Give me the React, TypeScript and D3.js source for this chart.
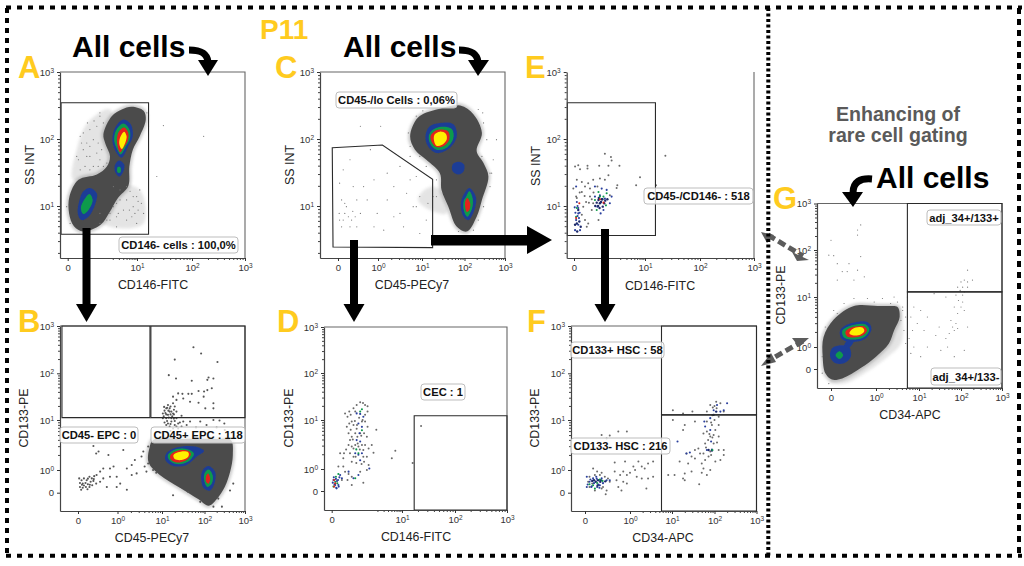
import React, { useEffect, useRef } from "react";
import * as d3 from "d3";

// all values are display decades: 0 is the "0" tick, 1 is 10^0, 2 is 10^1, 3 is 10^2, 4 is 10^3
type Pt = number[];

const yellow = "#ffcb1f";
const cloudGray = "#4c4c4c";
const hotBlue = "#1f3c96";
const hotGreen = "#0f9a4b";
const hotRed = "#e3201c";
const hotYellow = "#fff000";

const ticksFitc = [0, 2, 3, 4];
const ticksFull = [0, 1, 2, 3, 4];
const ticksSs = [2, 3, 4];

// panel A
const aOuter: Pt[] = [[1.85,3.48],[2.12,3.42],[2.16,3.29],[2.05,3.04],[1.88,2.84],[1.78,2.59],[1.75,2.3],[1.45,2.12],[1.2,1.9],[.95,1.72],[.45,1.62],[.18,1.7],[.04,1.89],[.05,2.14],[.31,2.39],[.84,2.47],[1.13,2.59],[1.22,2.74],[1.08,2.94],[1.03,3.07],[1.27,3.34],[1.56,3.44]];
const aHazeUp: Pt[] = [[.57,3.24],[1.22,3.44],[1.22,2.69],[.93,2.49],[.16,2.39],[.26,2.84]];
const aHazeLow: Pt[] = [[1.32,2.29],[2.05,2.24],[2.12,1.74],[1.22,1.69],[.84,1.84]];
const aBlue: Pt[] = [[1.61,3.29],[1.82,3.22],[1.88,3.04],[1.75,2.89],[1.56,2.72],[1.41,2.79],[1.29,2.97],[1.37,3.17]];
const aGreen: Pt[] = [[1.61,3.23],[1.78,3.14],[1.8,3.02],[1.68,2.89],[1.53,2.77],[1.41,2.87],[1.34,2.99],[1.41,3.14]];
const aRed: Pt[] = [[1.63,3.17],[1.75,3.09],[1.73,2.97],[1.61,2.87],[1.51,2.8],[1.43,2.92],[1.43,3.04],[1.49,3.12]];
const aYellow: Pt[] = [[1.63,3.11],[1.7,3.04],[1.66,2.94],[1.56,2.85],[1.49,2.92],[1.51,3.02]];
const aMidBlue: Pt[] = [[1.48,2.68],[1.63,2.62],[1.61,2.52],[1.49,2.44],[1.36,2.52],[1.37,2.62]];
const aMidGreen: Pt[] = [[1.44,2.58],[1.52,2.58],[1.52,2.5],[1.44,2.5]];
const aLowBlue: Pt[] = [[.64,2.27],[.84,2.19],[.79,2.02],[.6,1.84],[.4,1.79],[.29,1.89],[.34,2.09],[.45,2.22]];
const aLowGreen: Pt[] = [[.63,2.18],[.72,2.09],[.6,1.94],[.45,1.88],[.38,1.97],[.47,2.09]];
const aDots: Pt[] = [[.57,3.24],[.76,3.27],[.93,3.34],[.36,3.04],[.55,2.94],[.74,2.99],[.45,2.84],[.64,2.74],[.84,2.79],[.98,2.84],[.31,2.69],[.5,2.59],[.74,2.59],[1.03,2.59],[1.32,2.29],[1.7,2.29],[2.05,2.24],[1.89,2.14],[1.51,2.09],[1.32,1.99],[1.89,1.99],[1.61,1.94],[2.12,1.89],[1.41,1.84],[1.13,1.79],[2.48,3.2],[3.22,3.04],[2.36,2.44],[1.94,1.89],[1.85,1.84],[2.02,2.07],[.93,1.89],[1.22,1.89],
  [.45,3.09],[.64,3.14],[.84,3.19],[1.03,3.24],[.4,2.94],[.64,2.89],[.88,2.94],[.26,2.74],[.55,2.74],[.93,2.69],[.36,2.54],[.64,2.54],[.88,2.59],[1.13,2.64],[1.51,2.24],[1.8,2.22],[1.99,2.14],[1.7,2.09],[1.41,2.04],[2.08,2.04],[1.78,1.94],[2.02,1.94],[1.46,1.89],[1.22,1.79],[1.7,1.79],[1.99,1.74],[1.41,1.69],[.93,1.74],[2.18,3.39],[2.21,3.19],[.93,3.39],[.07,1.74],[-.03,1.99]];

// panel B
const bOuter: Pt[] = [[1.8,1.6],[2.5,1.62],[3.3,1.62],[3.65,1.6],[3.7,1.3],[3.63,.9],[3.5,.25],[3.3,-.3],[3.1,-.6],[2.86,-.3],[2.42,.22],[1.95,.78],[1.7,1.15],[1.72,1.45]];
const bBlue1: Pt[] = [[2.1,1.33],[2.34,1.45],[2.78,1.47],[2.99,1.38],[2.82,1.27],[2.58,1.1],[2.26,1.08],[2.08,1.2]];
const bGreen1: Pt[] = [[2.14,1.3],[2.34,1.42],[2.62,1.41],[2.75,1.33],[2.62,1.17],[2.34,1.12],[2.17,1.2]];
const bRed1: Pt[] = [[2.2,1.3],[2.38,1.39],[2.62,1.38],[2.68,1.32],[2.58,1.2],[2.34,1.15],[2.2,1.22]];
const bYellow1: Pt[] = [[2.27,1.3],[2.46,1.37],[2.62,1.35],[2.62,1.27],[2.46,1.2],[2.3,1.22]];
const bBlue2: Pt[] = [[3.1,1.08],[3.26,.93],[3.26,.48],[3.14,.1],[2.99,.18],[2.92,.63],[2.96,1]];
const bGreen2: Pt[] = [[3.1,1.01],[3.2,.78],[3.18,.4],[3.07,.25],[3,.48],[3,.85]];
const bRed2: Pt[] = [[3.09,.85],[3.14,.63],[3.1,.4],[3.04,.48],[3.04,.73]];
const bDots: Pt[] = [[2.74,3.55],[2.92,3.42],[2.3,3.29],[3.32,3.24],[2.16,2.96],[2.33,2.89],[2.7,2.84],[3.1,2.91],[3.22,2.89],[3.07,2.86],[3.18,2.68],[3.07,2.64],[2.99,2.61],[2.86,2.62],[2.7,2.56],[2.62,2.56],[2.48,2.56],[2.38,2.57],[2.26,2.5],[2.98,2.5],[3.22,2.36],[2.86,2.37],[2.5,2.46],[2.66,2.39],[2.34,2.43],[2.26,2.36],[2.14,2.32],[2.1,2.25],[2.2,2.29],[2.3,2.29],[2.06,2.2],[2.18,2.18],[2.26,2.14],[2.02,2.14],[2.14,2.11],[2.34,2.18],[2.22,2.04],[2.1,2.04],[2.34,2.04],[2.46,2.09],[2.02,2.04],[3.22,2.25],[3.02,2.25],[2.22,1.97],[2.3,1.9],[2.14,1.93],[2.38,1.93],[2.5,1.97],[2.66,1.97],[2.9,1.97],[3.22,2],[3.37,1.99],[3.49,1.93],[2.26,1.83],[2.18,1.87],[2.1,1.9],[2.38,1.83],[2.46,1.87],[2.15,2.2],[2.2,2.12],[2.1,2.12],[2.28,2.22],[2.05,2.28],[2.24,2.08],[2.12,1.98],[2.3,1.98],
  [2.08,2.15],[2.18,2.25],[2.22,2.18],[2.12,2.26],[2.28,2.12],[2.04,2.08],[2.16,2.05],[2.28,2.03],[2.2,1.92],[2.06,1.95],[2.34,1.87],[2.42,1.95],[2.58,1.9],[2.8,1.85],[3.05,1.9],[3.3,1.85],[3.5,1.8],[2,1.75],[2.2,1.78],
  [.39,1.48],[.52,1.37],[.46,1.33],[.77,1.3],[1.13,1.4],[.9,1.07],[.81,1.03],[.64,1.03],[.56,.93],[1.32,1.1],[1.39,1.2],[1.58,1.37],[1.54,1.27],[1.69,1.47],[1.61,1.07],[1.65,.93],[1.43,.85],[1.32,.78],[1.21,1.03],[.98,.7],[.64,.63],[.81,.7],[1.06,.4],[.73,.25],[1.21,.13],[.98,.25],
  [.03,.63],[.09,.55],[.15,.63],[.22,.55],[.29,.7],[.35,.63],[.41,.73],[.47,.78],[.05,.43],[.12,.4],[.19,.43],[.25,.37],[.32,.48],[.39,.52],[.05,.25],[.12,.22],[.2,.25],[.29,.25],[.36,.33],[.46,.4],[.56,.48],[.08,.13],[.24,.15],[.3,.35],[.15,.32],[.25,.62],[.4,.6],[.1,.35],
  [2.26,-.12],[3.43,-.64],[3.22,-.64],[3.34,-.27],[3.63,.1],[3.71,.4],[2.9,-.42],[2.62,.03],[1.8,1],[1.69,1.13],[1.87,.88]];

// panel C
const cOuter: Pt[] = [[2.9,3.5],[3.22,3.37],[3.43,3.09],[3.3,2.82],[3.47,2.64],[3.59,2.44],[3.43,2.09],[3.3,1.84],[3.06,1.62],[2.82,1.69],[2.62,1.99],[2.46,2.24],[2.42,2.49],[2.1,2.69],[1.84,2.84],[1.73,3.04],[1.91,3.32],[2.34,3.44]];
const cHaze: Pt[] = [[2.26,2.29],[2.5,2.19],[2.58,1.89],[2.18,1.94],[1.91,2.09],[2.02,2.22]];
const cBlue1: Pt[] = [[2.42,3.24],[2.74,3.22],[2.82,3.04],[2.66,2.87],[2.34,2.79],[2.14,2.89],[2.08,3.04],[2.18,3.19]];
const cGreen1: Pt[] = [[2.42,3.18],[2.7,3.15],[2.74,3.02],[2.58,2.87],[2.34,2.84],[2.2,2.92],[2.16,3.04],[2.24,3.13]];
const cRed1: Pt[] = [[2.42,3.14],[2.62,3.11],[2.64,2.99],[2.5,2.89],[2.34,2.88],[2.24,2.94],[2.2,3.04],[2.28,3.11]];
const cYellow1: Pt[] = [[2.42,3.11],[2.56,3.08],[2.58,2.99],[2.46,2.91],[2.34,2.9],[2.28,2.99],[2.3,3.07]];
const cMidBlue: Pt[] = [[2.86,2.66],[2.99,2.62],[2.98,2.52],[2.86,2.47],[2.72,2.52],[2.72,2.62]];
const cBlue2: Pt[] = [[3.12,2.27],[3.28,2.14],[3.26,1.97],[3.1,1.79],[2.98,1.84],[2.91,2.02],[2.98,2.17]];
const cGreen2: Pt[] = [[3.12,2.22],[3.2,2.12],[3.19,1.97],[3.07,1.84],[2.99,1.92],[2.98,2.07],[3.04,2.14]];
const cRed2: Pt[] = [[3.07,2.12],[3.14,2.04],[3.12,1.94],[3.06,1.91],[3.02,1.97],[3.02,2.07]];
const cDots: Pt[] = [[.04,2.34],[.09,2.09],[.03,1.89],[.17,1.89],[.26,1.84],[.34,1.79],[.43,1.84],[.3,1.69],[.13,1.79],[.09,1.69],[.47,1.69],[.56,1.89],[.47,2.09],[.73,2.09],[.64,2.29],[.9,2.39],[1.21,2.49],[1.5,2.59],[1.73,2.39],[1.87,2.44],[1.65,2.19],[1.36,2.29],[1.21,2.09],[.98,1.89],[.9,1.69],[1.36,1.84],[1.8,1.99],[1.95,1.59],[1.58,1.69],[1.13,1.64],[.56,3.19],[1.06,3.19],[.13,2.54],[.3,2.69],[.81,2.84],[.38,2.29],[.21,1.99],[.37,1.92],[.17,2.04],[.04,1.79],[1.73,2.74],[1.5,1.89],[2.1,1.79],[2.26,2.14],[3.79,2.99],[3.45,3.39],[3.63,2.49],[3.71,2.69],
  [1.69,3.09],[1.73,2.89],[1.87,3.34],[2.02,3.42],[3.34,3.44],[3.47,3.24],[3.55,2.99],[3.43,2.74],[3.67,2.49],[3.63,2.29],[3.47,1.99],[3.34,1.79],[3.22,1.64],[2.86,1.62],[1.95,2.74],[2.1,2.59],[2.34,2.39],[1.87,1.99],[1.95,2.14],[2.14,2.04],[2.34,2.14]];

// panel D
const dGray: Pt[] = [[.81,2.38],[.89,2.36],[.95,2.32],[1.02,2.29],[.71,2.32],[.62,2.25],[.5,2.18],[.38,2.14],[.45,2.07],[.54,2.11],[.67,2.18],[1.02,2.18],[.95,2.11],[.57,1.97],[.5,1.93],[.43,1.86],[.54,1.8],[.62,1.9],[.95,1.97],[1.02,1.86],[.92,1.73],[1.27,1.8],[.48,1.73],[.57,1.66],[.67,1.73],[1,1.66],[1.14,1.49],[.52,1.59],[.48,1.49],[.41,1.4],[.35,1.32],[.24,1.32],[.33,1.22],[.52,1.32],[.62,1.25],[.57,1.15],[.95,1.49],[.9,1.39],[1.05,1.42],[1.19,1.33],[1,1.25],[.92,1.15],[1.05,1.08],[1,.95],[.81,.88],[.9,.38],[.33,1.05],[.19,1.05],[.38,.88],[.48,.77],[.57,.65],[.45,.5],[.29,.5],[.57,.27],[1.81,1.37],[1.71,1.22],[2.2,1.12],[2.36,1.88],[.73,1.66],[.86,1.49],[.76,1.46],[.67,1.49],[.81,1.73],[.71,1.82],[.57,1.46],[.86,1.97],
  [.78,2.05],[.72,1.9],[.84,1.68],[.74,1.52],[.68,1.25],[.8,1.4],[.9,1.25],[.62,1.42],[.6,1.6],[.88,2],[.66,1.98],[.85,1.1],[.7,1.12]];
const dBlue: Pt[] = [[.71,2.14],[.81,2.13],[.9,2.07],[.76,1.93],[.86,1.86],[.79,1.73],[.71,1.59],[.81,1.56],[.67,1.32],[.76,1.29],[.86,1.32],[.81,1.18],[1.07,1.01],[.76,.73],[.62,.58],[.24,.73],[.19,.27],[.29,.58],[.1,.27],[.14,.12],[.48,.88],[.05,.5],[.12,.55],[.15,.45],[.08,.3],[.13,.15],[.18,.5],[.22,.62],[.06,.62],[.03,.38],[.2,.2]];
const dGreen: Pt[] = [[.86,2.23],[.81,2.18],[.7,1.4],[.86,1.79],[.76,1.32],[.67,.58],[.12,.65],[.19,.77],[.05,.2],[.1,.42],[.16,.35]];
const dRed: Pt[] = [[.07,.5],[.1,.35],[.07,.2]];

// panel E
const eGray: Pt[] = [[.87,2.78],[1.04,2.73],[1.06,2.68],[1.28,2.6],[.97,2.6],[.71,2.6],[.38,2.6],[.38,2.56],[.03,2.59],[.12,2.61],[.17,2.55],[1.86,2.43],[1.75,2.31],[1.22,2.31],[1.2,2.27],[2.2,2.31],[2.37,2.75],[.22,2.36],[.08,2.39],[.4,2.34],[.54,2.39],[.73,2.41],[.97,2.46],[.87,2.39],[-.02,2.26],[.31,2.29],[.45,2.26],[.66,2.29],[.22,2.21],[.06,2.14],[.45,2.14],[.34,2.06],[.26,1.99],[.54,2.04],[.69,1.79],[.4,1.74],[.31,1.79],[.22,1.87],[.36,1.69],[1.01,2.16],[.5,1.94],[.16,2.2],[.3,2.15],[.42,2.05],[.5,2.1],[.55,2.2],[.08,2.12]];
const eBlue: Pt[] = [[.59,2.29],[.78,2.26],[.92,2.24],[1.06,2.14],[1.01,2.04],[.83,1.94],[.66,1.99],[.59,2.14],[.73,2.16],[.87,2.11],[.06,2.29],[.08,2.06],[.12,1.89],[.06,1.79],[.12,1.72],[.17,1.64],[.03,1.64],[.12,1.97],[.75,1.89],[.04,1.9],[.1,1.85],[.14,1.82],[.02,1.98],[.16,1.9],[.1,2]];
const eDark: Pt[] = [[.69,2.09],[.78,2.1],[.85,2.04],[.73,2.04],[.64,2.05],[.81,1.99],[.08,1.74],[.15,1.77],[.03,1.72],[.19,1.69],[.09,1.62],[.12,1.94],[.7,2.12],[.76,2.06],[.8,2.1],[.68,2],[.72,1.97],[.88,2.08],[.6,2],[.94,2.1]];
const eGreen: Pt[] = [[.69,2.21],[.92,2.19],[.83,2.14],[.59,2.09],[.73,2.14],[.9,2.01],[.08,1.97],[.06,1.84],[.64,1.94]];
const eRed: Pt[] = [[.83,2.05],[.73,2.1],[.06,1.82],[.15,2.04]];

// panel F
const fGray: Pt[] = [[3.04,2.39],[3.14,2.36],[2.9,2.32],[2.96,2.27],[2.82,2.18],[3.22,2.18],[3.1,2.07],[2.82,1.97],[2.94,1.9],[3.1,1.9],[3.02,1.8],[2.82,1.77],[2.9,1.67],[2.74,1.73],[3.1,1.67],[2.98,1.53],[2.78,1.53],[2.62,1.43],[2.54,1.4],[2.66,1.33],[2.9,1.37],[3.1,1.4],[3.22,1.4],[3.22,1.3],[3.14,1.2],[3.02,1.17],[2.86,1.27],[2.78,1.2],[2.7,1.13],[2.54,1.23],[2.46,1.27],[2.38,1.13],[2.74,1.03],[2.9,1],[2.82,.78],[2.7,.88],[2.64,.37],[2.46,.93],[2.3,.85],[2.26,.63],[2.3,.55],[2.06,.78],[1.91,.78],[2.18,1.17],[2.34,1.33],[2.26,1.8],[2.3,1.9],[2.02,2.21],[2.02,2],[2.26,2.14],[2.48,2.18],[2.54,1.97],
  [3,2.3],[3.05,2.25],[2.95,2.1],[3,2],[2.92,1.95],[2.88,1.72],[2.95,1.65],[2.85,1.6],[2.8,1.45],[2.92,1.3],[2.74,1.33],[2.98,1.7],[3.06,1.55],
  [.18,1.03],[.27,.93],[.37,.88],[.1,.7],[.22,.78],[.33,.78],[.44,.7],[.51,.63],[.55,.48],[.07,.48],[.16,.4],[.4,.25],[.48,.1],[.46,-.07],[.37,.18],[.22,.1],[.1,.25],
  [.66,1.15],[.89,1.17],[1.2,1.17],[1.08,1.07],[.85,.93],[.66,.93],[1,.88],[.78,.78],[.93,.78],[1.12,1],[1.28,1.07],[1.43,1.13],[1.35,1.03],[1.55,.7],[1.43,.63],[1.28,.63],[.85,.48],[.93,.4],[.7,.55],[.81,.1],[.74,.25],[1.39,.18],[1.16,.7],[.37,1.7],[.55,1.69],[.74,1.77],[.93,1.77],[.48,1.63],[1.55,1.17]];
const fBlue: Pt[] = [[3.06,2.32],[3.22,2.21],[3.3,2.36],[2.98,2.21],[3.14,2.18],[2.9,2.04],[2.78,1.87],[2.9,1.8],[2.92,1.57],[2.82,1.4],[2.94,1.41],[2.42,1.35],[2.13,1.57],[2.76,1.97],[2.34,1.33],[.04,.7],[.1,.48],[.18,.63],[.25,.7],[.37,.63],[.48,.55],[.14,.25],[.27,.25],[.33,.33],[.04,.25],[.55,.55],[.12,.58],[.2,.42],[.3,.36],[.26,.62],[.4,.42],[.15,.28],[.32,.22],[.06,.36]];
const fDark: Pt[] = [[2.98,2.11],[3.04,2.18],[2.86,1.4],[2.94,1.39],[.29,.55],[.34,.48],[.24,.48],[.16,.52],[.2,.55],[.35,.55],[.45,.5],[.28,.32]];
const fGreen: Pt[] = [[2.95,1.4],[.27,.43],[.18,.33],[.39,.52],[.22,.18],[.33,.58],[.1,.37]];

// panel G
const gOuter: Pt[] = [[1.5,1.8],[1.55,1.6],[1.42,1.33],[1.3,1.07],[1,.56],[.66,.04],[.25,-.4],[.02,-.45],[-.13,-.18],[-.19,.56],[-.17,1.2],[.06,1.55],[.51,1.82],[1.04,1.82],[1.3,1.82]];
const gHaze: Pt[] = [[1.5,1.8],[1.62,1.47],[1.58,1.07],[1.27,.56],[.81,-.1],[.29,-.62],[-.05,-.54],[.51,.26],[1.27,1.33]];
const gBlue1: Pt[] = [[.51,1.49],[.81,1.5],[.9,1.37],[.77,1.17],[.44,1.1],[.23,1.17],[.2,1.33],[.32,1.43]];
const gGreen1: Pt[] = [[.55,1.45],[.77,1.45],[.85,1.35],[.74,1.2],[.47,1.15],[.29,1.19],[.25,1.32],[.36,1.4]];
const gRed1: Pt[] = [[.55,1.41],[.74,1.41],[.8,1.33],[.7,1.23],[.5,1.19],[.36,1.21],[.32,1.3],[.4,1.37]];
const gYellow1: Pt[] = [[.55,1.39],[.7,1.39],[.74,1.32],[.66,1.25],[.51,1.23],[.41,1.27],[.44,1.33]];
const gBlue2: Pt[] = [[.17,1.03],[.4,1],[.44,.56],[.29,.26],[.1,.26],[-.02,.56],[.02,.93]];
const gLink: Pt[] = [[.36,1.13],[.51,1.13],[.4,.96],[.29,1]];
const gGreen2: Pt[] = [[.19,.81],[.27,.63],[.19,.46],[.1,.63]];
const gDots: Pt[] = [[.66,3.54],[.59,3.43],[.59,3.32],[0,3.21],[-.05,2.89],[.06,2.88],[.14,2.71],[.25,2.54],[.36,2.54],[.59,2.57],[.74,2.43],[.51,2.36],[.14,2.36],[.4,2.71],[.66,2.86],[3.16,2.57],
  [3.08,2.36],[3,2.32],[3.16,2.32],[3.28,2.36],[2.92,2.21],[3.04,2.21],[3.16,2.21],[2.98,2.14],[3.08,2.11],[2.88,2.04],[3.04,2.04],[2.94,1.93],[3.04,1.9],[2.84,1.8],[3,1.8],[3.08,1.73],[2.92,1.67],[2.76,1.53],[2.88,1.47],[2.8,1.4],[2.92,1.37],[2.84,1.33],[3.16,1.4],[2.72,1.27],[2.64,1.17],[2.48,1.4],[2.4,1.23],[2.2,1.6],[2.04,1.73],[1.88,1.8],[1.81,1.6],[1.96,1.47],[2.12,1.33],[1.85,1.33],[1.77,1.17],[1.88,1],[2.2,1],[2.52,.85],[2.68,1],[2.84,.56],[3.08,.85],[2.04,.56],[1.81,.71],[1.69,1.07],[1.65,1.33],[1.62,1.73],[1.58,1.53],[2.64,2],[2.36,2.07],
  [.06,1.73],[.29,1.87],[.51,1.97],[.81,1.97],[1.15,1.97],[1.42,2],[1.5,1.9],[1.34,1.87],[.96,1.9],[.14,1.67],[-.13,1.4],[-.2,.56],[-.2,-.18],[-.05,-.62],[1.62,1.8],[1.69,1.6],[1.73,2]];

type Panel = {
  xDomain: number[]; xRange: number[]; yDomain: number[]; yRange: number[];
  xTicks: number[]; yTicks: number[];
  xTitle: string; yTitle: string; xTitleAt: number[]; yTitleAt: number[];
  haze?: Pt[][];
  rings?: [Pt[], string][];
  dots: [Pt[], string, number][];
  gates: Pt[][];
  labels: [string, number, number, number, number][];
  openTop?: boolean;
};

const panels: Panel[] = [
  {
    xDomain: [-.22,0,2,3,4], xRange: [60,67.7,137,192,245],
    yDomain: [1.225,2,3,4], yRange: [258,206,139,72],
    xTicks: ticksFitc, yTicks: ticksSs, xTitle: "CD146-FITC", yTitle: "SS INT", xTitleAt: [153,289], yTitleAt: [34,165],
    haze: [aHazeUp, aHazeLow],
    rings: [[aOuter,cloudGray],[aBlue,hotBlue],[aGreen,hotGreen],[aRed,hotRed],[aYellow,hotYellow],[aMidBlue,hotBlue],[aMidGreen,hotGreen],[aLowBlue,hotBlue],[aLowGreen,hotGreen]],
    dots: [[aDots,"#777",.6]],
    gates: [[[-.19,3.54],[2.21,3.54],[2.21,1.58],[-.19,1.58]]],
    labels: [["CD146- cells : 100,0%",119,237,119,16]],
  },
  {
    xDomain: [-.46,0,1,2,3,4], xRange: [60,78,117.5,162,204.5,245],
    yDomain: [-.84,0,1,2,3,4], yRange: [511,492.7,470,420,373.3,326],
    xTicks: ticksFull, yTicks: ticksFull, xTitle: "CD45-PECy7", yTitle: "CD133-PE", xTitleAt: [152,542], yTitleAt: [28,418],
    rings: [[bOuter,cloudGray],[bBlue1,hotBlue],[bGreen1,hotGreen],[bRed1,hotRed],[bYellow1,hotYellow],[bBlue2,hotBlue],[bGreen2,hotGreen],[bRed2,hotRed]],
    dots: [[bDots,"#555",1.05]],
    gates: [[[-.41,4],[1.73,4],[1.73,2.05],[-.41,2.05]],[[1.75,4],[4,4],[4,2.05],[1.75,2.05]]],
    labels: [["CD45- EPC : 0",60,427,78,16],["CD45+ EPC : 118",151,427,94,16]],
  },
  {
    xDomain: [-.47,0,1,2,3,4], xRange: [320,338,378,422,464.5,505],
    yDomain: [1.225,2,3,4], yRange: [258,206,139,72],
    xTicks: ticksFull, yTicks: ticksSs, xTitle: "CD45-PECy7", yTitle: "SS INT", xTitleAt: [412,289], yTitleAt: [294,165],
    haze: [cHaze],
    rings: [[cOuter,cloudGray],[cBlue1,hotBlue],[cGreen1,hotGreen],[cRed1,hotRed],[cYellow1,hotYellow],[cMidBlue,hotBlue],[cBlue2,hotBlue],[cGreen2,hotGreen],[cRed2,hotRed]],
    dots: [[cDots,"#777",.6]],
    gates: [[[-.15,2.87],[1.1,2.91],[2.25,2.4],[2.25,1.38],[-.13,1.39]]],
    labels: [["CD45-/lo Cells : 0,06%",336,92,121,16]],
  },
  {
    xDomain: [-.21,0,2,3,4], xRange: [324,331.7,402,455,507],
    yDomain: [-.86,0,1,2,3,4], yRange: [510,491,469,420,373,327],
    xTicks: ticksFitc, yTicks: ticksFull, xTitle: "CD146-FITC", yTitle: "CD133-PE", xTitleAt: [416,541], yTitleAt: [293,418],
    dots: [[dGray,"#6a6a6a",1],[dBlue,"#2a3f9d",1.05],[dGreen,"#0f9a4b",1.05],[dRed,"#d8261e",1.1]],
    gates: [[[2.23,2.09],[4,2.09],[4,-.86],[2.23,-.86]]],
    labels: [["CEC : 1",421,384,44,16]],
  },
  {
    xDomain: [-.21,0,2,3,4], xRange: [566.7,574,645,700,754],
    yDomain: [1.225,2,3,4], yRange: [258,206,139,72],
    xTicks: ticksFitc, yTicks: ticksSs, xTitle: "CD146-FITC", yTitle: "SS INT", xTitleAt: [660,290], yTitleAt: [540,166],
    dots: [[eGray,"#6a6a6a",1],[eBlue,"#2a3f9d",1.05],[eDark,"#1d2a6b",1.2],[eGreen,"#0f9a4b",1.05],[eRed,"#d8261e",1.05]],
    gates: [[[-.19,3.54],[2.19,3.54],[2.19,1.56],[-.19,1.56]]],
    labels: [["CD45-/CD146- : 518",644,188,109,16]],
    openTop: true,
  },
  {
    xDomain: [-.32,0,1,2,3,4], xRange: [571,585,630,672,714.5,756.5],
    yDomain: [-.84,0,1,2,3,4], yRange: [511,492.7,470,420,373.3,326],
    xTicks: ticksFull, yTicks: ticksFull, xTitle: "CD34-APC", yTitle: "CD133-PE", xTitleAt: [663,542], yTitleAt: [539,418],
    dots: [[fGray,"#6a6a6a",1],[fBlue,"#2a3f9d",1.05],[fDark,"#1d2a6b",1.2],[fGreen,"#0f9a4b",1.05]],
    gates: [[[1.75,4],[4,4],[4,2.11],[1.75,2.11]],[[1.75,2.11],[4,2.11],[4,-.84],[1.75,-.84]]],
    labels: [["CD133+ HSC : 58",571,342,93,16],["CD133- HSC : 216",571,438,99,16]],
  },
  {
    xDomain: [-.32,0,1,2,3,4], xRange: [817,831,876,919,961,1002],
    yDomain: [-.81,0,1,2,3,4], yRange: [388,369,347,297,250,203.5],
    xTicks: ticksFull, yTicks: ticksFull, xTitle: "CD34-APC", yTitle: "CD133-PE", xTitleAt: [910,419], yTitleAt: [785,295],
    haze: [gHaze],
    rings: [[gOuter,cloudGray],[gBlue1,hotBlue],[gLink,hotBlue],[gGreen1,hotGreen],[gRed1,hotRed],[gYellow1,hotYellow],[gBlue2,hotBlue],[gGreen2,hotGreen]],
    dots: [[gDots,"#777",.6]],
    gates: [[[1.73,4],[4,4],[4,2.11],[1.73,2.11]],[[1.73,2.11],[4,2.11],[4,-.81],[1.73,-.81]]],
    labels: [["adj_34+/133+",927,210,74,15],["adj_34+/133-",931,368,70,17]],
  },
];

const panelLetters: [string, number, number][] = [["A",18,78],["B",18,332],["C",275,78],["D",277,332],["E",525,78],["F",527,332],["G",773,209]];
const allCells: [number, number][] = [[72,57],[343,57],[876,188]];

const ringPath = d3.line().curve(d3.curveCatmullRomClosed.alpha(0.5));
const gatePath = d3.line().curve(d3.curveLinearClosed);

function minorTicks(domain: number[]) {
  const out: number[] = [];
  for (let d = 1; d < 4; d++) {
    for (let k = 2; k < 10; k++) {
      const u = d + Math.log10(k);
      if (u > domain[0]) out.push(u);
    }
  }
  return out;
}

function styleAxis(g: d3.Selection<SVGGElement, unknown, null, undefined>) {
  g.attr("font-family", "Liberation Sans").attr("font-size", 9.5);
  g.selectAll("line").attr("stroke", "#333");
  g.select(".domain").attr("stroke", "#444").attr("stroke-width", 1.2);
  g.selectAll<SVGTextElement, number>("text").attr("fill", "#333").each(function (d) {
    const t = d3.select(this);
    t.text(null);
    if (d === 0) {
      t.append("tspan").text("0");
    } else {
      t.append("tspan").text("10");
      t.append("tspan").text(String(d - 1)).attr("font-size", 6.5).attr("dy", "-0.45em");
    }
  });
}

function PlotPanel({ p }: { p: Panel }) {
  const xRef = useRef<SVGGElement>(null);
  const yRef = useRef<SVGGElement>(null);
  const x = d3.scaleLinear().domain(p.xDomain).range(p.xRange);
  const y = d3.scaleLinear().domain(p.yDomain).range(p.yRange);
  const toPx = (pts: Pt[]) => pts.map((d) => [x(d[0]), y(d[1])] as [number, number]);
  const x0 = p.xRange[0];
  const x1 = p.xRange[p.xRange.length - 1];
  const y0 = p.yRange[0];
  const y1 = p.yRange[p.yRange.length - 1];

  useEffect(() => {
    const gx = d3.select(xRef.current!);
    const gy = d3.select(yRef.current!);
    gx.selectAll("*").remove();
    gy.selectAll("*").remove();
    const minorX = gx.append("g");
    minorX.call(d3.axisBottom(x).tickValues(minorTicks(p.xDomain)).tickSize(2).tickFormat(() => "").tickSizeOuter(0));
    minorX.select(".domain").remove();
    minorX.selectAll("line").attr("stroke", "#444");
    const minorY = gy.append("g");
    minorY.call(d3.axisLeft(y).tickValues(minorTicks(p.yDomain)).tickSize(2).tickFormat(() => "").tickSizeOuter(0));
    minorY.select(".domain").remove();
    minorY.selectAll("line").attr("stroke", "#444");
    gx.append("g").call(d3.axisBottom(x).tickValues(p.xTicks).tickSize(3).tickPadding(3).tickSizeOuter(0)).call(styleAxis as any);
    gy.append("g").call(d3.axisLeft(y).tickValues(p.yTicks).tickSize(3).tickPadding(3).tickSizeOuter(0)).call(styleAxis as any);
  }, []);

  return (
    <g>
      {(p.haze || []).map((h, i) => (
        <path key={i} d={ringPath(toPx(h))!} fill="#bdbdbd" opacity={0.4} filter="url(#soft)" />
      ))}
      {p.rings && (
        <path d={ringPath(toPx(p.rings[0][0]))!} fill="none" stroke="#777" strokeWidth={4} opacity={0.4} filter="url(#soft)" />
      )}
      {(p.rings || []).map(([r, c], i) => (
        <path key={i} d={ringPath(toPx(r))!} fill={c} filter="url(#edge)" />
      ))}
      {p.dots.map(([pts, c, r], i) => (
        <g key={i} fill={c} filter="url(#dotblur)">
          {pts.map((d, j) => (
            <circle key={j} cx={x(d[0])} cy={y(d[1])} r={r} />
          ))}
        </g>
      ))}
      <path
        d={p.openTop ? `M${x1},${y1}V${y0}` : `M${x0},${y1}H${x1}V${y0}`}
        fill="none" stroke="#666" strokeWidth={1.1}
      />
      {p.gates.map((g, i) => (
        <path key={i} d={gatePath(toPx(g))!} fill="none" stroke="#2a2a2a" strokeWidth={1.1} />
      ))}
      <g ref={xRef} transform={`translate(0,${y0})`} />
      <g ref={yRef} transform={`translate(${x0},0)`} />
      <text x={p.xTitleAt[0]} y={p.xTitleAt[1]} textAnchor="middle" fontSize={12.4} fill="#222">{p.xTitle}</text>
      <text transform={`translate(${p.yTitleAt[0]},${p.yTitleAt[1]}) rotate(-90)`} textAnchor="middle" fontSize={12.4} fill="#222">{p.yTitle}</text>
      {p.labels.map(([t, lx, ly, w, h], i) => (
        <g key={i}>
          <rect x={lx} y={ly} width={w} height={h} rx={3} fill="#fff" fillOpacity={0.78} stroke="#bdbdbd" strokeWidth={1} />
          <text x={lx + w / 2} y={ly + h / 2 + 4} textAnchor="middle" fontSize={11.2} fontWeight="bold" fill="#111">{t}</text>
        </g>
      ))}
    </g>
  );
}

function DownArrow({ cx, top, bottom }: { cx: number; top: number; bottom: number }) {
  return (
    <g fill="#000">
      <rect x={cx - 4} y={top} width={8} height={bottom - top - 16} />
      <polygon points={`${cx - 10.5},${bottom - 18} ${cx + 10.5},${bottom - 18} ${cx},${bottom}`} />
    </g>
  );
}

function GrayArrow({ from, to, headA, headB }: { from: number[]; to: number[]; headA: number[]; headB: number[] }) {
  return (
    <g>
      <line x1={from[0]} y1={from[1]} x2={to[0]} y2={to[1]} stroke="#5c5c5c" strokeWidth={5} strokeDasharray="8 4" />
      <polygon points={headA.join(",")} fill="#5c5c5c" />
      <polygon points={headB.join(",")} fill="#5c5c5c" />
    </g>
  );
}

export default function App() {
  return (
    <svg width={1024} height={566} viewBox="0 0 1024 566" fontFamily="Liberation Sans, Arial, sans-serif"
      style={{ position: "absolute", left: 0, top: 0, display: "block", background: "#fff" }}>
      <defs>
        <filter id="soft" x="-20%" y="-20%" width="140%" height="140%"><feGaussianBlur stdDeviation="1.6" /></filter>
        <filter id="edge" x="-20%" y="-20%" width="140%" height="140%"><feGaussianBlur stdDeviation="0.5" /></filter>
        <filter id="dotblur" x="-5%" y="-5%" width="110%" height="110%"><feGaussianBlur stdDeviation="0.25" /></filter>
      </defs>

      {panels.map((p, i) => <PlotPanel key={i} p={p} />)}

      <DownArrow cx={86.5} top={228} bottom={322} />
      <DownArrow cx={354} top={240} bottom={322} />
      <DownArrow cx={605} top={229} bottom={322} />
      <g fill="#000">
        <rect x={431} y={235} width={97} height={10.5} />
        <polygon points="527,226 552,240 527,254" />
      </g>

      <g fill="none" stroke="#000" strokeWidth={7}>
        <path d="M189,50 C199,50 207,52 208,62" />
        <path d="M459,50 C469,50 477,52 478,62" />
        <path d="M872,179 C860,178 853,182 853,193" />
      </g>
      <g fill="#000">
        <polygon points="198,60 218,60 208,76" />
        <polygon points="468,60 489,60 478,76" />
        <polygon points="842,192 863,192 853,207" />
      </g>

      <GrayArrow from={[768, 235]} to={[803, 256]} headA={[761, 232, 774, 235, 767, 243]} headB={[809, 260, 792, 252, 797, 261]} />
      <GrayArrow from={[803, 341]} to={[768, 361]} headA={[809, 338, 792, 338, 799, 347]} headB={[761, 366, 771, 353, 776, 362]} />

      {allCells.map(([tx, ty], i) => (
        <text key={i} x={tx} y={ty} fontSize={30} fontWeight="bold" fill="#000">All cells</text>
      ))}
      {panelLetters.map(([t, tx, ty]) => (
        <text key={t} x={tx} y={ty} fontSize={31} fontWeight="bold" fill={yellow}>{t}</text>
      ))}
      <text x={260} y={39} fontSize={28} fontWeight="bold" fill={yellow}>P11</text>
      <g fontSize={19.6} fontWeight="bold" fill="#5a5a5a" textAnchor="middle">
        <text x={898} y={121}>Enhancing of</text>
        <text x={898} y={142}>rare cell gating</text>
      </g>

      <g stroke="#000" strokeWidth={4} fill="none">
        <path d="M6,7.5H1022" strokeDasharray="5 6" />
        <path d="M7,8V556" strokeDasharray="5 5" />
        <path d="M6,555.7H1022" strokeDasharray="5 6" />
        <path d="M1019,8V556" strokeDasharray="6 5" />
      </g>
      <path d="M768.3,8V556" stroke="#000" strokeWidth={4} strokeDasharray="3 2.5" fill="none" />
    </svg>
  );
}
